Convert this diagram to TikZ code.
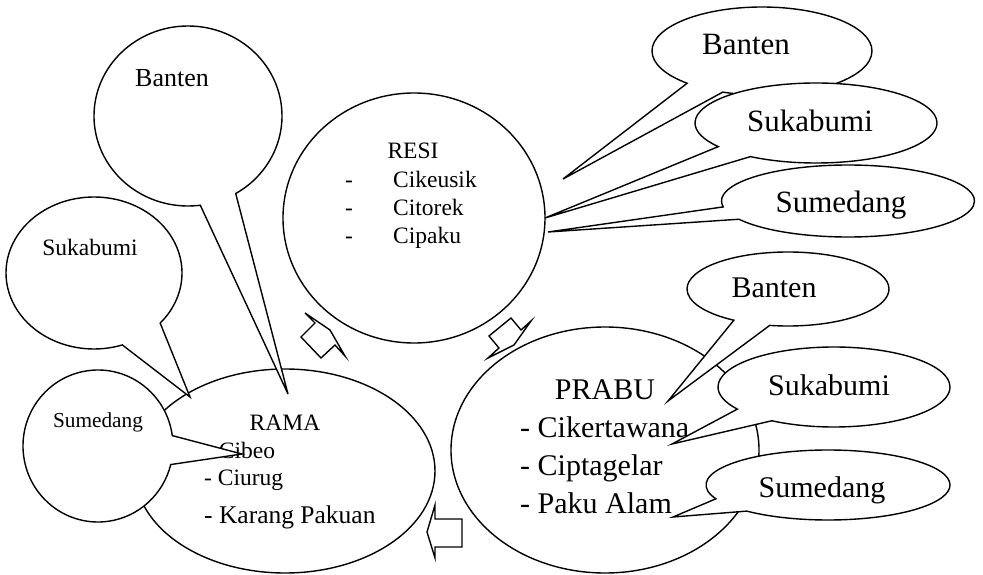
\documentclass[tikz,border=0pt]{standalone}
\usepackage{fontspec}
\setmainfont{Liberation Serif}
\usetikzlibrary{shapes,shapes.callouts}

\begin{document}
\begin{tikzpicture}
    [x=1pt, y=-1pt,
      bubble/.style={ellipse callout, draw, fill=white, line width=1.4pt, inner sep=0pt},
      blob/.style={ellipse, draw, fill=white, line width=1.4pt, inner sep=0pt},
      word/.style={anchor=base, inner sep=0pt},
      item/.style={anchor=base west, inner sep=0pt},
      cyc/.style={draw, fill=white, line width=1.4pt},
      small/.style={font=\fontsize{23.5}{28}\selectfont},
      big/.style={font=\fontsize{30}{36}\selectfont},
      huge/.style={font=\fontsize{31}{37}\selectfont}]
    \useasboundingbox (0,0) rectangle (983,575);

    % RESI
    \node[blob, minimum width=262pt, minimum height=250pt] (resi) at (414,218) {};
    \node[word, small] (resi-t) at (413,159) {RESI};
    \foreach \name [count=\i] in {Cikeusik,Citorek,Cipaku} {
      \node[item, small] (resi-d\i) at (345,159+28*\i) {-};
      \node[item, small] (resi-\i) at (393,159+28*\i) {\name};
    }

    % RESI callouts
    \node[bubble, minimum width=220pt, minimum height=88pt,
      callout absolute pointer={(563,179)}, callout pointer arc=22] (banR1) at (762,51) {};
    \node[word, huge] (banR1-t) at (746,55) {Banten};
    \node[bubble, minimum width=242pt, minimum height=80pt,
      callout absolute pointer={(545,218)}, callout pointer arc=21] (sukR1) at (816,123) {};
    \node[word, huge] (sukR1-t) at (810,132) {Sukabumi};
    \node[bubble, minimum width=253pt, minimum height=72pt,
      callout absolute pointer={(548,232)}, callout pointer arc=21] (sumR1) at (848,201) {};
    \node[word, huge] (sumR1-t) at (841,212) {Sumedang};

    % RAMA
    \node[blob, minimum width=300pt, minimum height=204pt] (rama) at (285,471) {};
    \node[word, small] (rama-t) at (285,430) {RAMA};
    \node[item, small] (rama-1) at (205,458) {- Cibeo};
    \node[item, small] (rama-2) at (204,485) {- Ciurug};
    \node[item, font=\fontsize{25.5}{30}\selectfont] (rama-3) at (204,523) {- Karang Pakuan};

    % RAMA callouts
    \node[bubble, minimum width=188pt, minimum height=180pt,
      callout absolute pointer={(288,394)}, callout pointer arc=23] (banL) at (188,116) {};
    \node[word, font=\fontsize{26}{31}\selectfont] (banL-t) at (172,87) {Banten};
    \node[bubble, minimum width=176pt, minimum height=152pt,
      callout absolute pointer={(190,397)}, callout pointer arc=30] (sukL) at (94,273) {};
    \node[word, small] (sukL-t) at (90,255) {Sukabumi};
    \node[bubble, minimum width=150pt, minimum height=152pt,
      callout absolute pointer={(242,454)}, callout pointer arc=22] (sumL) at (98,446) {};
    \node[word, font=\fontsize{21.3}{26}\selectfont] (sumL-t) at (98,427) {Sumedang};

    % PRABU
    \node[blob, minimum width=308pt, minimum height=246pt] (prabu) at (605,450) {};
    \node[word, big] (prabu-t) at (605,399) {PRABU};
    \foreach \name [count=\i] in {Cikertawana,Ciptagelar,Paku Alam}
      \node[item, big] (prabu-\i) at (520,399+38*\i) {- \name};

    % PRABU callouts
    \node[bubble, minimum width=202pt, minimum height=74pt,
      callout absolute pointer={(668,401)}, callout pointer arc=22] (banR2) at (788,289) {};
    \node[word, big] (banR2-t) at (774,297) {Banten};
    \node[bubble, minimum width=232pt, minimum height=80pt,
      callout absolute pointer={(672,444)}, callout pointer arc=24] (sukR2) at (834,387) {};
    \node[word, big] (sukR2-t) at (829,395) {Sukabumi};
    \node[bubble, minimum width=244pt, minimum height=70pt,
      callout absolute pointer={(673,517)}, callout pointer arc=25] (sumR2) at (828,485) {};
    \node[word, big] (sumR2-t) at (822,497) {Sumedang};

    % cycle arrows
    \draw[cyc] (330,330) -- (345,356) -- (335,345) -- (321,358) -- (301,337) -- (315,323) -- (305,313) -- cycle;
    \draw[cyc] (514,345) -- (488,358) -- (499,348) -- (489,336) -- (511,318) -- (521,330) -- (531,321) -- cycle;
    \draw[cyc] (427,532) -- (435,505) -- (435,519) -- (462,519) -- (462,547) -- (435,547) -- (435,558) -- cycle;
\end{tikzpicture}
\end{document}
